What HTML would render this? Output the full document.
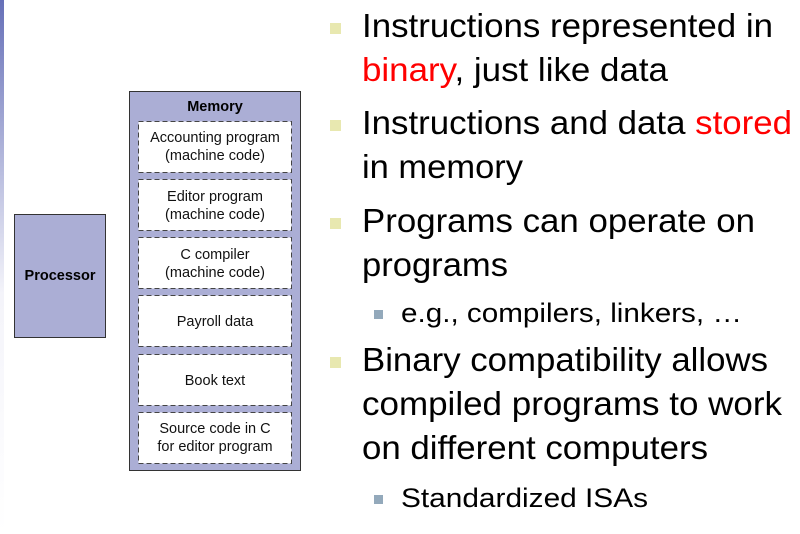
<!DOCTYPE html>
<html><head><meta charset="utf-8"><style>
html,body{margin:0;padding:0;background:#fff;}
svg{display:block;}
</style></head><body>
<svg width="800" height="534" viewBox="0 0 800 534" xmlns="http://www.w3.org/2000/svg" font-family="Liberation Sans, Arial, sans-serif">
<defs>
<linearGradient id="g" x1="0" y1="0" x2="0" y2="1">
<stop offset="0" stop-color="#6670b8"/>
<stop offset="0.55" stop-color="#f4f4fa"/>
<stop offset="1" stop-color="#ffffff"/>
</linearGradient>
</defs>
<rect x="0" y="0" width="4" height="534" fill="url(#g)"/>
<!-- Processor -->
<rect x="14.5" y="214.5" width="91" height="123" fill="#abaed5" stroke="#333" stroke-width="1"/>
<text x="60" y="280" font-size="14.5" font-weight="bold" text-anchor="middle">Processor</text>
<!-- Memory -->
<rect x="129.5" y="91.5" width="171" height="379" fill="#abaed5" stroke="#333" stroke-width="1"/>
<text x="215" y="111" font-size="14.5" font-weight="bold" text-anchor="middle">Memory</text>
<g fill="#fff" stroke="#444" stroke-width="1" stroke-dasharray="5,3">
<rect x="138.5" y="121.5" width="153" height="51"/>
<rect x="138.5" y="179.5" width="153" height="51"/>
<rect x="138.5" y="237.5" width="153" height="51"/>
<rect x="138.5" y="295.5" width="153" height="51"/>
<rect x="138.5" y="354.5" width="153" height="51"/>
<rect x="138.5" y="412.5" width="153" height="51"/>
</g>
<g font-size="14.5" text-anchor="middle" fill="#111">
<text x="215" y="142">Accounting program</text>
<text x="215" y="160">(machine code)</text>
<text x="215" y="201">Editor program</text>
<text x="215" y="219">(machine code)</text>
<text x="215" y="259">C compiler</text>
<text x="215" y="277">(machine code)</text>
<text x="215" y="326">Payroll data</text>
<text x="215" y="385">Book text</text>
<text x="215" y="433">Source code in C</text>
<text x="215" y="451">for editor program</text>
</g>
<!-- Bullets -->
<g fill="#e8e8b0">
<rect x="330" y="23" width="11" height="11"/>
<rect x="330" y="120" width="11" height="11"/>
<rect x="330" y="218" width="11" height="11"/>
<rect x="330" y="357" width="11" height="11"/>
</g>
<g fill="#93a9bb">
<rect x="374" y="310" width="9" height="9"/>
<rect x="374" y="495" width="9" height="9"/>
</g>
<g font-size="33" fill="#000" lengthAdjust="spacingAndGlyphs">
<text x="362" y="37" textLength="411" lengthAdjust="spacingAndGlyphs">Instructions represented in</text>
<text x="362" y="81" textLength="306" lengthAdjust="spacingAndGlyphs"><tspan fill="#ff0000">binary</tspan>, just like data</text>
<text x="362" y="134" textLength="430" lengthAdjust="spacingAndGlyphs">Instructions and data <tspan fill="#ff0000">stored</tspan></text>
<text x="362" y="178" textLength="161" lengthAdjust="spacingAndGlyphs">in memory</text>
<text x="362" y="232" textLength="393" lengthAdjust="spacingAndGlyphs">Programs can operate on</text>
<text x="362" y="276" textLength="146" lengthAdjust="spacingAndGlyphs">programs</text>
<text x="362" y="371" textLength="406" lengthAdjust="spacingAndGlyphs">Binary compatibility allows</text>
<text x="362" y="415" textLength="420" lengthAdjust="spacingAndGlyphs">compiled programs to work</text>
<text x="362" y="459" textLength="346" lengthAdjust="spacingAndGlyphs">on different computers</text>
</g>
<g font-size="27" fill="#000">
<text x="401" y="322" textLength="341" lengthAdjust="spacingAndGlyphs">e.g., compilers, linkers, …</text>
<text x="401" y="507" textLength="247" lengthAdjust="spacingAndGlyphs">Standardized ISAs</text>
</g>
</svg>
</body></html>
